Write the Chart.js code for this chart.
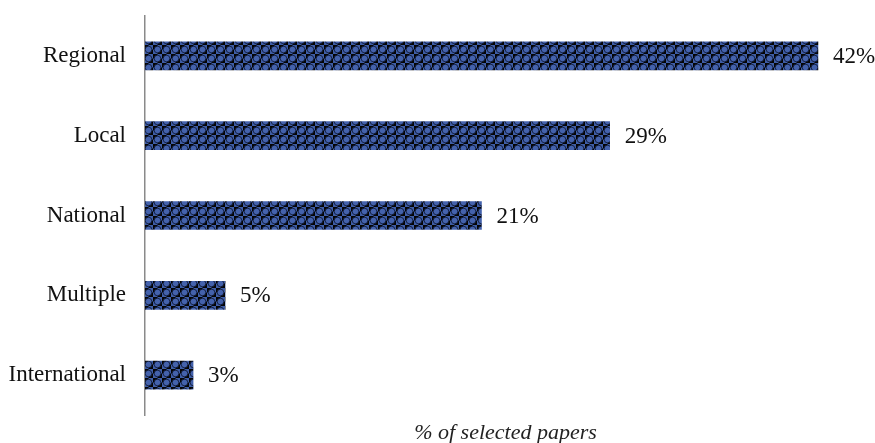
<!DOCTYPE html>
<html>
<head>
<meta charset="utf-8">
<script src="https://cdn.jsdelivr.net/npm/chart.js@4"></script>
<style>
  html, body { margin: 0; padding: 0; background: #fff; }
  #wrap { width: 875px; height: 443px; }
</style>
</head>
<body>
<div id="wrap"><canvas id="myChart"></canvas></div>
<script>
// Share of selected papers by geographic scale
const scales = ['Regional', 'Local', 'National', 'Multiple', 'International'];
const shares = [42, 29, 21, 5, 3];
const axisTitle = '% of selected papers';

const serif = '"Liberation Serif", "Times New Roman", serif';

// blue dots on a black checker, used to fill the bars
function dotPattern() {
  const c = document.createElement('canvas');
  c.width = 9; c.height = 9;
  const g = c.getContext('2d');
  g.fillStyle = '#3f5da6';
  g.fillRect(0, 0, 9, 9);
  g.fillStyle = '#050505';
  g.fillRect(0, 0, 4.5, 4.5);
  g.fillRect(4.5, 4.5, 4.5, 4.5);
  g.fillStyle = '#4462ac';
  g.beginPath();
  g.arc(4.5, 4.5, 3.3, 0, Math.PI * 2);
  g.fill();
  g.strokeStyle = '#0d1530';
  g.lineWidth = 0.8;
  g.stroke();
  return g.createPattern(c, 'repeat');
}

// value text at the end of each bar
const valueLabels = {
  id: 'valueLabels',
  afterDatasetsDraw(chart) {
    const ctx = chart.ctx;
    const meta = chart.getDatasetMeta(0);
    ctx.save();
    ctx.font = '23px ' + serif;
    ctx.fillStyle = '#111';
    ctx.textBaseline = 'middle';
    ctx.textAlign = 'left';
    meta.data.forEach((bar, i) => {
      ctx.fillText(shares[i] + '%', bar.x + 15, bar.y + 1);
    });
    ctx.restore();
  }
};

const ctx = document.getElementById('myChart');
new Chart(ctx, {
  type: 'bar',
  data: {
    labels: scales,
    datasets: [{
      data: shares,
      backgroundColor: dotPattern(),
      borderWidth: 0,
      barThickness: 28
    }]
  },
  options: {
    indexAxis: 'y',
    responsive: true,
    maintainAspectRatio: false,
    animation: false,
    layout: { padding: { top: 16, right: 9, left: 0, bottom: 0 } },
    plugins: {
      legend: { display: false },
      tooltip: { enabled: false }
    },
    scales: {
      x: {
        min: 0,
        max: 45,
        grid: { display: false, drawTicks: false },
        border: { display: false },
        ticks: { display: false },
        title: {
          display: true,
          text: axisTitle,
          color: '#222',
          font: { family: serif, size: 22, style: 'italic' },
          padding: { top: 4, bottom: -3 }
        },
        afterFit(scale) {
          scale.height = 28;
          scale.paddingLeft = 0;
          scale.paddingRight = 0;
        }
      },
      y: {
        grid: { display: false, drawTicks: false },
        border: { display: true, color: '#8a8a8a', width: 1.5 },
        ticks: {
          padding: 19,
          color: '#111',
          font: { family: serif, size: 23 }
        },
        afterFit(scale) {
          scale.width = 145;
          scale.paddingTop = 0;
          scale.paddingBottom = 0;
        }
      }
    }
  },
  plugins: [valueLabels]
});
</script>
</body>
</html>
